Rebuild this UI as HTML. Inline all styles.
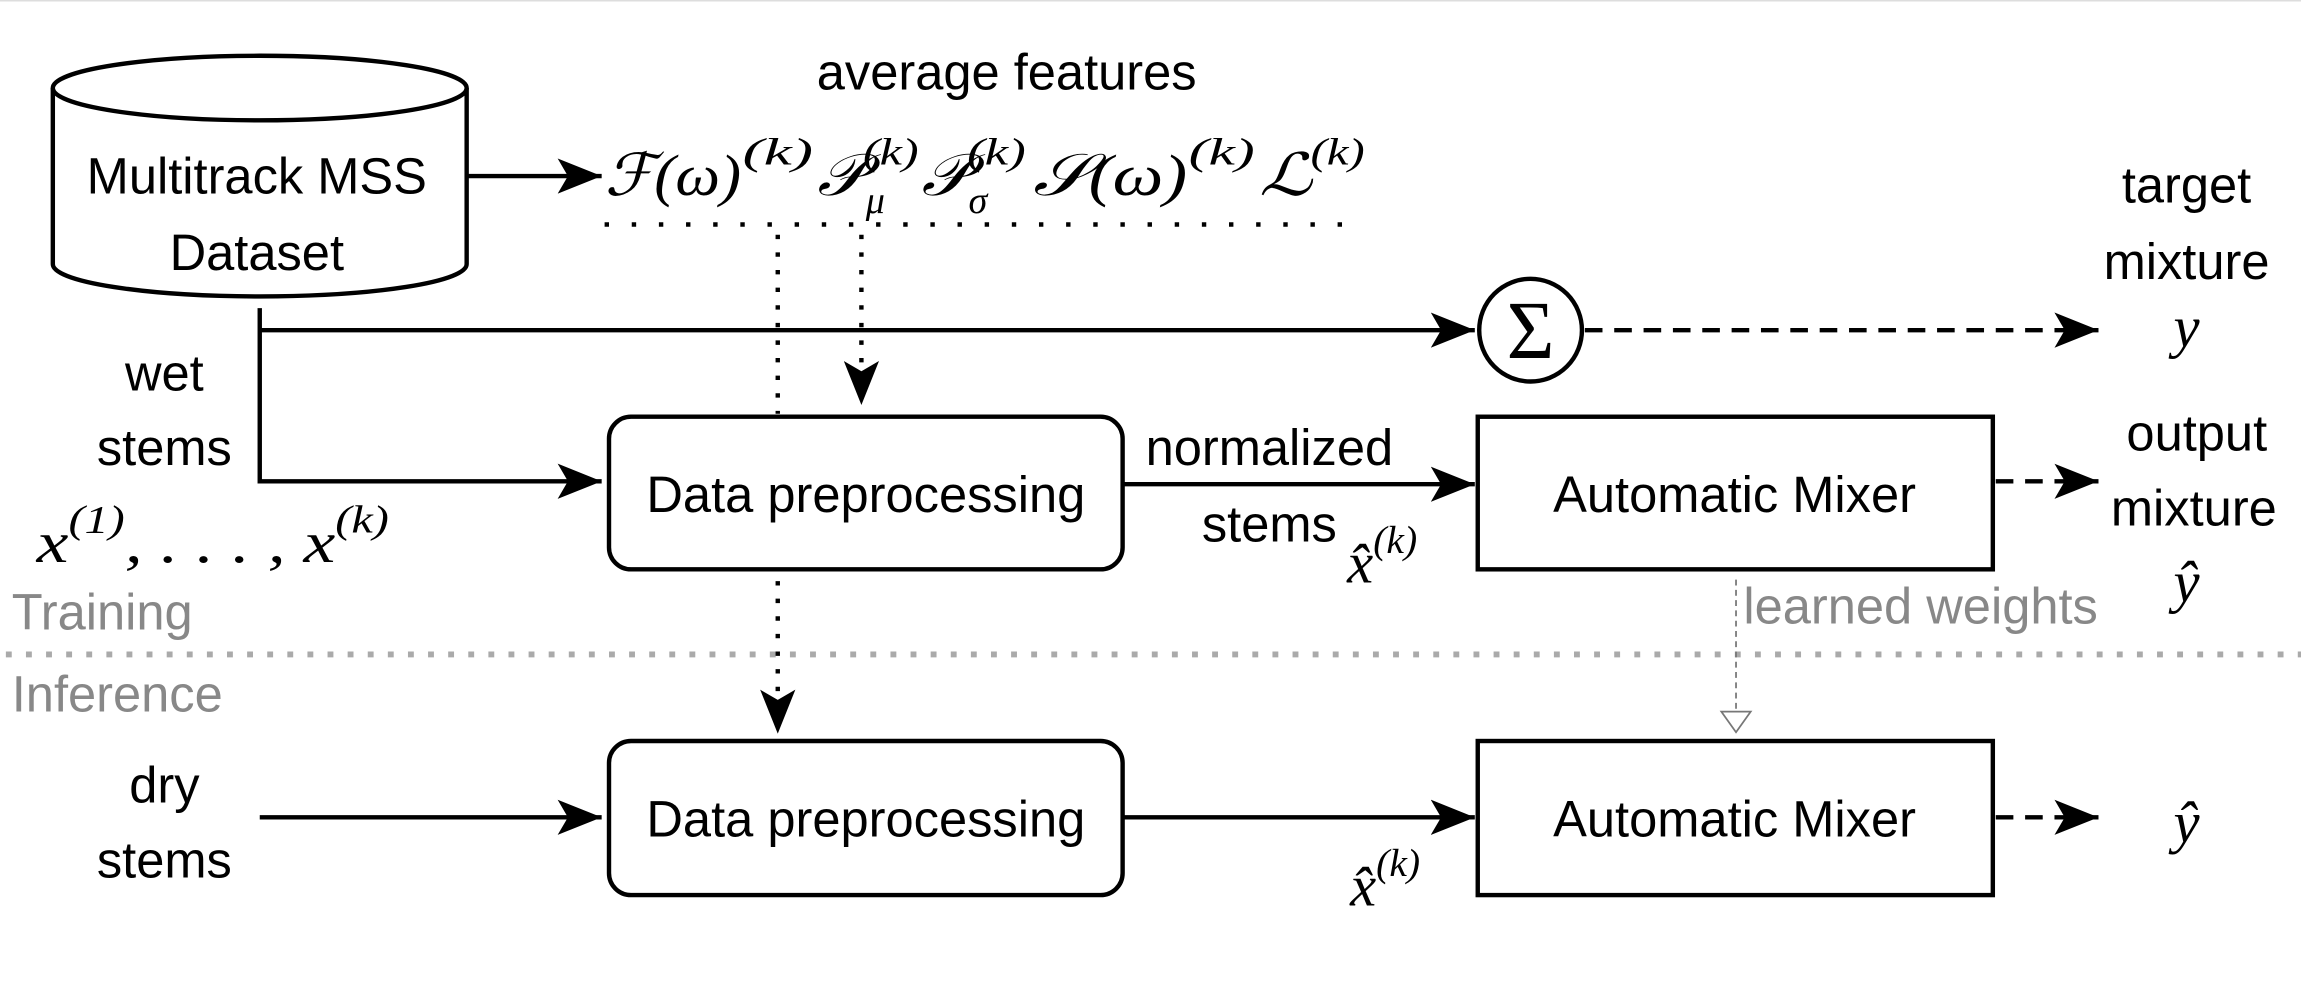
<!DOCTYPE html>
<html><head><meta charset="utf-8"><style>
html,body{margin:0;padding:0;background:#fff;}
svg{display:block;}
.s{font-family:"Liberation Sans",sans-serif;font-size:34.5px;fill:#000;}
.g{font-family:"Liberation Sans",sans-serif;font-size:34.5px;fill:#888;}
.m{font-family:"Liberation Serif",serif;font-style:italic;fill:#000;}
.k{font-family:"Liberation Serif",serif;font-style:italic;fill:#000;font-size:26px;}
</style></head><body>
<svg width="2301" height="1000" viewBox="0 0 1568 681.5" preserveAspectRatio="none" xmlns="http://www.w3.org/2000/svg">
<defs>
<marker id="b" viewBox="0 0 30 24" refX="30" refY="12" markerWidth="30" markerHeight="24" orient="auto" markerUnits="userSpaceOnUse"><path d="M0,0 L30,12 L0,24 L7,12z" fill="#000"/></marker>
<marker id="o" viewBox="0 0 16 24" refX="16" refY="12" markerWidth="16" markerHeight="24" orient="auto" markerUnits="userSpaceOnUse"><path d="M1,2 L15,12 L1,22z" fill="#fff" stroke="#777" stroke-width="1.2"/></marker>
</defs>
<line x1="0" y1="0.5" x2="1568" y2="0.5" stroke="#ddd" stroke-width="1"/>
<path d="M36,60 L36,180 A141,22 0 0 0 318,180 L318,60" fill="#fff" stroke="#000" stroke-width="3"/>
<ellipse cx="177" cy="60" rx="141" ry="22" fill="#fff" stroke="#000" stroke-width="3"/>
<text class="s" x="175" y="132" text-anchor="middle">Multitrack MSS</text>
<text class="s" x="175" y="184" text-anchor="middle">Dataset</text>
<line x1="318" y1="120" x2="410" y2="120" stroke="#000" stroke-width="3" marker-end="url(#b)"/>
<text class="s" x="686" y="61" text-anchor="middle">average features</text>
<!-- formula -->
<text class="m" x="412" y="133" font-size="40" textLength="93" lengthAdjust="spacingAndGlyphs">ℱ(ω)</text>
<text class="k" x="506" y="112" textLength="48" lengthAdjust="spacingAndGlyphs">(k)</text>
<text class="m" x="557" y="133" font-size="40" textLength="32" lengthAdjust="spacingAndGlyphs">𝒫</text>
<text class="k" x="588" y="112" textLength="38" lengthAdjust="spacingAndGlyphs">(k)</text>
<text class="k" x="590" y="145">μ</text>
<text class="m" x="628" y="133" font-size="40" textLength="32" lengthAdjust="spacingAndGlyphs">𝒫</text>
<text class="k" x="659" y="112" textLength="40" lengthAdjust="spacingAndGlyphs">(k)</text>
<text class="k" x="660" y="145">σ</text>
<text class="m" x="704" y="133" font-size="40" textLength="105" lengthAdjust="spacingAndGlyphs">𝒮(ω)</text>
<text class="k" x="810" y="112" textLength="45" lengthAdjust="spacingAndGlyphs">(k)</text>
<text class="m" x="858" y="133" font-size="40" textLength="36" lengthAdjust="spacingAndGlyphs">ℒ</text>
<text class="k" x="893" y="112" textLength="37" lengthAdjust="spacingAndGlyphs">(k)</text>
<line x1="412" y1="153" x2="926" y2="153" stroke="#000" stroke-width="3" stroke-dasharray="3,15.5"/>
<line x1="530" y1="160" x2="530" y2="282" stroke="#000" stroke-width="3" stroke-dasharray="3,9"/>
<line x1="587" y1="160" x2="587" y2="276" stroke="#000" stroke-width="3" stroke-dasharray="3,9" marker-end="url(#b)"/>
<polyline points="177,210 177,328 410,328" fill="none" stroke="#000" stroke-width="3" marker-end="url(#b)"/>
<line x1="177" y1="225" x2="1005" y2="225" stroke="#000" stroke-width="3" marker-end="url(#b)"/>
<circle cx="1043" cy="225" r="35" fill="#fff" stroke="#000" stroke-width="3"/>
<text x="1043" y="244" text-anchor="middle" font-family="Liberation Serif,serif" font-size="56">Σ</text>
<line x1="1080" y1="225" x2="1430" y2="225" stroke="#000" stroke-width="3" stroke-dasharray="12,8" marker-end="url(#b)"/>
<text class="s" x="1490" y="138" text-anchor="middle">target</text>
<text class="s" x="1490" y="190" text-anchor="middle">mixture</text>
<text class="m" x="1490" y="236" font-size="40" text-anchor="middle">y</text>
<text class="s" x="112" y="266" text-anchor="middle">wet</text>
<text class="s" x="112" y="317" text-anchor="middle">stems</text>
<text class="m" x="25" y="383" font-size="40" textLength="240" lengthAdjust="spacingAndGlyphs">x<tspan font-size="27" dy="-20">(1)</tspan><tspan dy="20">, . . . , x</tspan><tspan font-size="27" dy="-20">(k)</tspan></text>
<rect x="415" y="284" width="350" height="104" rx="15" fill="#fff" stroke="#000" stroke-width="3"/>
<text class="s" x="590" y="349" text-anchor="middle">Data preprocessing</text>
<line x1="765" y1="330" x2="1005" y2="330" stroke="#000" stroke-width="3" marker-end="url(#b)"/>
<text class="s" x="865" y="317" text-anchor="middle">normalized</text>
<text class="s" x="865" y="369" text-anchor="middle">stems</text>
<text class="m" x="918" y="397" font-size="40">x̂<tspan font-size="27" dy="-20">(k)</tspan></text>
<rect x="1007" y="284" width="351" height="104" fill="#fff" stroke="#000" stroke-width="3"/>
<text class="s" x="1182" y="349" text-anchor="middle">Automatic Mixer</text>
<line x1="1360" y1="328" x2="1430" y2="328" stroke="#000" stroke-width="3" stroke-dasharray="12,8" marker-end="url(#b)"/>
<text class="s" x="1497" y="307" text-anchor="middle">output</text>
<text class="s" x="1495" y="358" text-anchor="middle">mixture</text>
<text class="m" x="1490" y="410" font-size="40" text-anchor="middle">ŷ</text>
<text class="g" x="8" y="429">Training</text>
<line x1="4" y1="446" x2="1568" y2="446" stroke="#aaa" stroke-width="4" stroke-dasharray="4,9.7"/>
<text class="g" x="8" y="485">Inference</text>
<line x1="530" y1="396" x2="530" y2="500" stroke="#000" stroke-width="3" stroke-dasharray="3,9" marker-end="url(#b)"/>
<text class="g" x="1188" y="425">learned weights</text>
<line x1="1183" y1="395" x2="1183" y2="500" stroke="#777" stroke-width="1.2" stroke-dasharray="4,3" marker-end="url(#o)"/>
<text class="s" x="112" y="547" text-anchor="middle">dry</text>
<text class="s" x="112" y="598" text-anchor="middle">stems</text>
<line x1="177" y1="557" x2="410" y2="557" stroke="#000" stroke-width="3" marker-end="url(#b)"/>
<rect x="415" y="505" width="350" height="105" rx="15" fill="#fff" stroke="#000" stroke-width="3"/>
<text class="s" x="590" y="570" text-anchor="middle">Data preprocessing</text>
<line x1="765" y1="557" x2="1005" y2="557" stroke="#000" stroke-width="3" marker-end="url(#b)"/>
<text class="m" x="920" y="617" font-size="40">x̂<tspan font-size="27" dy="-20">(k)</tspan></text>
<rect x="1007" y="505" width="351" height="105" fill="#fff" stroke="#000" stroke-width="3"/>
<text class="s" x="1182" y="570" text-anchor="middle">Automatic Mixer</text>
<line x1="1360" y1="557" x2="1430" y2="557" stroke="#000" stroke-width="3" stroke-dasharray="12,8" marker-end="url(#b)"/>
<text class="m" x="1490" y="574" font-size="40" text-anchor="middle">ŷ</text>
</svg>
</body></html>
